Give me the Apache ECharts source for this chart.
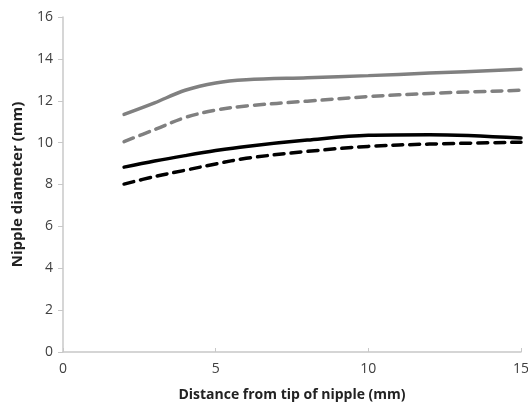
<!DOCTYPE html>
<html><head><meta charset="utf-8">
<script src="https://cdn.jsdelivr.net/npm/echarts@6/dist/echarts.min.js"></script>
<style>html,body{margin:0;padding:0;background:#fff}#c{width:528px;height:408px}</style>
</head><body><div id="c"></div>
<script>
const xValues = [2, 3, 4, 5, 6, 8, 10, 12, 15];
const graySolid = [11.35, 11.9, 12.5, 12.85, 13.0, 13.1, 13.2, 13.32, 13.5];
const grayDashed = [10.05, 10.62, 11.2, 11.55, 11.75, 11.98, 12.2, 12.35, 12.5];
const blackSolid = [8.83, 9.12, 9.38, 9.62, 9.82, 10.12, 10.35, 10.38, 10.22];
const blackDashed = [8.02, 8.38, 8.68, 8.98, 9.25, 9.58, 9.82, 9.93, 10.02];
const xTitle = 'Distance from tip of nipple (mm)';
const yTitle = 'Nipple diameter (mm)';

const pairs = arr => xValues.map((x, i) => [x, arr[i]]);
const font = '"Open Sans", "Liberation Sans", sans-serif';
const mk = (data, color, dashed) => ({
  type: 'line', data: pairs(data), smooth: 0.35, showSymbol: false,
  lineStyle: { color, width: 3.5, type: dashed ? [10, 7] : 'solid', cap: 'round' }
});
const chart = echarts.init(document.getElementById('c'), null, { renderer: 'canvas' });
chart.setOption({
  animation: false,
  grid: { left: 63, right: 7, top: 17, bottom: 56, containLabel: false, outerBoundsMode: 'none' },
  xAxis: {
    type: 'value', min: 0, max: 15, interval: 5,
    name: xTitle, nameLocation: 'middle', nameGap: 36,
    nameTextStyle: { fontFamily: font, fontSize: 14, fontWeight: 'bold', color: '#222' },
    axisLine: { lineStyle: { color: '#c8c8c8', width: 1.5 } },
    axisTick: { show: true, length: 4, inside: true, lineStyle: { color: '#c8c8c8' } },
    axisLabel: { fontFamily: font, fontSize: 14, color: '#404040', margin: 10 },
    splitLine: { show: false }
  },
  yAxis: {
    type: 'value', min: 0, max: 16, interval: 2,
    name: yTitle, nameLocation: 'middle', nameGap: 38, nameRotate: 90,
    nameTextStyle: { fontFamily: font, fontSize: 15, fontWeight: 'bold', color: '#222' },
    axisLine: { show: true, lineStyle: { color: '#c8c8c8', width: 1.5 } },
    axisTick: { show: true, length: 5, lineStyle: { color: '#c8c8c8' } },
    axisLabel: { fontFamily: font, fontSize: 14, color: '#404040', margin: 10 },
    splitLine: { show: false }
  },
  series: [
    mk(graySolid, '#808080', false),
    mk(grayDashed, '#808080', true),
    mk(blackSolid, '#000000', false),
    mk(blackDashed, '#000000', true)
  ]
});
</script></body></html>
